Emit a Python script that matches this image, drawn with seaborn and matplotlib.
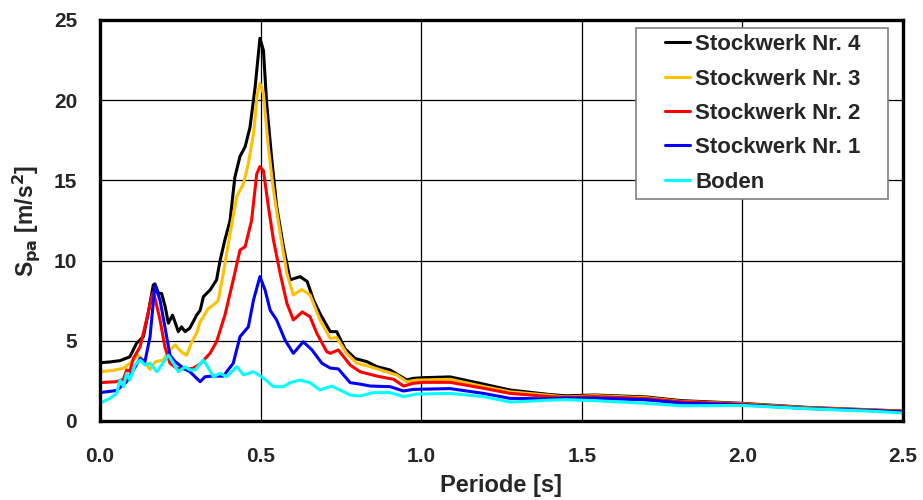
import matplotlib
matplotlib.use("Agg")
import matplotlib.pyplot as plt
import numpy as np
import pandas as pd
import seaborn as sns
from matplotlib.patches import Rectangle
from matplotlib.transforms import IdentityTransform
from matplotlib.ticker import MultipleLocator, FormatStrFormatter

# Spectral acceleration per storey
x_st4 = [0.0, 0.03, 0.062, 0.093, 0.114, 0.135, 0.15, 0.166, 0.171, 0.182, 0.192, 0.203, 0.213,
         0.226, 0.244, 0.254, 0.265, 0.28, 0.301, 0.312, 0.322, 0.343, 0.363, 0.374, 0.389, 0.405,
         0.42, 0.436, 0.452, 0.467, 0.483, 0.498, 0.509, 0.519, 0.535, 0.55, 0.571, 0.592, 0.623,
         0.645, 0.665, 0.685, 0.717, 0.737, 0.763, 0.794, 0.831, 0.862, 0.903, 0.929, 0.955, 0.976,
         1.007, 1.09, 1.194, 1.277, 1.40, 1.45, 1.54, 1.70, 1.81, 2.0, 2.2, 2.41, 2.5]
y_st4 = [3.63, 3.68, 3.76, 4.0, 4.85, 5.26, 6.7, 8.48, 8.55, 7.97, 7.95, 7.13, 6.1,
         6.6, 5.57, 5.87, 5.57, 5.8, 6.6, 6.9, 7.75, 8.17, 8.8, 10.0, 11.3, 12.5,
         15.2, 16.5, 17.1, 18.3, 20.8, 23.86, 23.1, 19.8, 16.3, 13.4, 10.9, 8.8, 9.0,
         8.7, 7.54, 6.7, 5.57, 5.57, 4.5, 3.9, 3.7, 3.39, 3.18, 2.87, 2.56, 2.66,
         2.7, 2.75, 2.3, 1.93, 1.65, 1.57, 1.62, 1.5, 1.27, 1.1, 0.85, 0.69, 0.62]

x_st3 = [0.0, 0.04, 0.073, 0.093, 0.104, 0.119, 0.13, 0.145, 0.156, 0.173, 0.197, 0.218, 0.234,
         0.254, 0.27, 0.286, 0.301, 0.312, 0.322, 0.337, 0.353, 0.368, 0.384, 0.405, 0.426, 0.447,
         0.462, 0.478, 0.49, 0.498, 0.509, 0.524, 0.54, 0.561, 0.582, 0.602, 0.628, 0.654, 0.685,
         0.717, 0.737, 0.768, 0.8, 0.841, 0.88, 0.924, 0.955, 0.986, 1.09, 1.194, 1.277, 1.40,
         1.45, 1.54, 1.70, 1.81, 2.0, 2.2, 2.41, 2.5]
y_st3 = [3.07, 3.15, 3.29, 3.6, 3.8, 4.1, 3.9, 3.5, 3.22, 3.7, 3.8, 4.43, 4.74,
         4.3, 4.1, 4.94, 5.47, 6.2, 6.5, 7.0, 7.23, 7.5, 9.2, 11.7, 14.0, 14.8,
         16.07, 17.9, 20.4, 21.05, 20.4, 17.1, 14.4, 11.7, 9.2, 7.86, 8.2, 7.86, 6.3,
         5.15, 5.2, 4.22, 3.6, 3.39, 3.14, 2.87, 2.45, 2.55, 2.6, 2.15, 1.82, 1.6,
         1.5, 1.58, 1.45, 1.22, 1.07, 0.82, 0.67, 0.6]

x_st2 = [0.0, 0.05, 0.073, 0.083, 0.093, 0.104, 0.125, 0.145, 0.161, 0.166, 0.172, 0.187, 0.202,
         0.218, 0.239, 0.27, 0.29, 0.312, 0.343, 0.363, 0.389, 0.415, 0.436, 0.452, 0.472, 0.488,
         0.498, 0.509, 0.524, 0.54, 0.561, 0.582, 0.602, 0.63, 0.654, 0.675, 0.706, 0.717, 0.742,
         0.779, 0.81, 0.862, 0.914, 0.945, 0.976, 1.007, 1.09, 1.194, 1.277, 1.40, 1.45, 1.54,
         1.70, 1.81, 2.0, 2.2, 2.41, 2.5]
y_st2 = [2.39, 2.45, 2.6, 3.18, 3.1, 3.9, 4.63, 6.3, 7.75, 8.0, 7.6, 6.3, 4.63,
         3.6, 3.29, 3.22, 3.29, 3.55, 4.23, 4.94, 6.6, 8.8, 10.66, 10.87, 12.5, 15.4,
         15.86, 15.6, 13.4, 11.3, 9.2, 7.34, 6.3, 6.8, 6.5, 5.47, 4.32, 4.22, 4.43,
         3.49, 3.07, 2.8, 2.6, 2.18, 2.35, 2.41, 2.41, 2.04, 1.72, 1.52, 1.47, 1.52,
         1.4, 1.2, 1.05, 0.8, 0.66, 0.6]

x_st1 = [0.0, 0.052, 0.083, 0.104, 0.125, 0.14, 0.156, 0.171, 0.187, 0.202, 0.218, 0.234, 0.26,
         0.28, 0.312, 0.327, 0.353, 0.384, 0.415, 0.436, 0.462, 0.478, 0.498, 0.514, 0.53, 0.55,
         0.576, 0.602, 0.633, 0.66, 0.691, 0.717, 0.742, 0.779, 0.81, 0.841, 0.903, 0.945, 0.976,
         1.09, 1.194, 1.277, 1.40, 1.45, 1.54, 1.70, 1.81, 2.0, 2.2, 2.41, 2.5]
y_st1 = [1.77, 1.9, 2.45, 3.18, 3.9, 3.7, 5.26, 8.45, 7.54, 5.88, 4.1, 3.7, 3.29,
         3.07, 2.45, 2.76, 2.8, 2.8, 3.6, 5.26, 5.87, 7.54, 9.0, 8.17, 6.9, 6.3,
         5.05, 4.22, 4.94, 4.43, 3.6, 3.3, 3.25, 2.39, 2.3, 2.18, 2.14, 1.87, 1.97,
         2.02, 1.72, 1.41, 1.38, 1.42, 1.42, 1.32, 1.12, 1.0, 0.78, 0.64, 0.56]

x_boden = [0.0, 0.031, 0.052, 0.062, 0.073, 0.083, 0.093, 0.109, 0.125, 0.14, 0.156, 0.177, 0.192,
           0.213, 0.229, 0.244, 0.265, 0.28, 0.296, 0.322, 0.338, 0.353, 0.374, 0.395, 0.426, 0.447,
           0.478, 0.509, 0.54, 0.571, 0.592, 0.623, 0.654, 0.685, 0.722, 0.747, 0.779, 0.81, 0.851,
           0.903, 0.945, 0.986, 1.09, 1.194, 1.277, 1.40, 1.45, 1.54, 1.70, 1.81, 2.0, 2.2, 2.41, 2.5]
y_boden = [1.1, 1.41, 1.72, 2.56, 2.14, 2.97, 2.56, 3.49, 3.8, 3.49, 3.6, 3.07, 3.49,
           4.1, 3.6, 3.07, 3.38, 3.18, 3.18, 3.8, 3.29, 2.76, 2.97, 2.76, 3.39, 2.87,
           3.07, 2.68, 2.14, 2.14, 2.39, 2.55, 2.39, 1.93, 2.18, 1.93, 1.62, 1.56, 1.77,
           1.77, 1.52, 1.68, 1.72, 1.52, 1.18, 1.3, 1.33, 1.27, 1.1, 0.95, 0.97, 0.77, 0.6, 0.5]

series_names = ["Stockwerk Nr. 4", "Stockwerk Nr. 3", "Stockwerk Nr. 2", "Stockwerk Nr. 1", "Boden"]
series_colors = ["#000000", "#FFC000", "#FF0000", "#0000FF", "#00FFFF"]

# long-form table for seaborn
frames = []
for name, xs, ys in zip(series_names,
                        [x_st4, x_st3, x_st2, x_st1, x_boden],
                        [y_st4, y_st3, y_st2, y_st1, y_boden]):
    frames.append(pd.DataFrame({"Periode": xs, "Spa": ys, "Kurve": name}))
df = pd.concat(frames, ignore_index=True)

sns.set_style("white")
plt.rcParams["font.family"] = ["Liberation Sans", "DejaVu Sans"]
plt.rcParams["font.weight"] = "bold"
plt.rcParams["mathtext.default"] = "bf"

fig = plt.figure(figsize=(9.23, 5.0), dpi=100)
ax = fig.add_axes([0.1083, 0.158, 0.870, 0.802])

sns.lineplot(data=df, x="Periode", y="Spa", hue="Kurve", hue_order=series_names,
             palette=dict(zip(series_names, series_colors)), sort=False,
             estimator=None, linewidth=2.2, ax=ax)

ax.set_xlim(0, 2.5)
ax.set_ylim(0, 25)
ax.xaxis.set_major_locator(MultipleLocator(0.5))
ax.xaxis.set_minor_locator(MultipleLocator(0.1))
ax.yaxis.set_major_locator(MultipleLocator(5))
ax.yaxis.set_minor_locator(MultipleLocator(1))
ax.xaxis.set_major_formatter(FormatStrFormatter("%.1f"))
ax.grid(True, which="major", color="black", linewidth=0.9)
ax.set_axisbelow(True)

for sp in ax.spines.values():
    sp.set_color("black")
    sp.set_linewidth(2.4)

ax.tick_params(which="major", direction="inout", length=13, width=1.8, labelsize=15)
ax.tick_params(axis="x", which="major", pad=12)
ax.tick_params(axis="y", which="major", pad=10)
ax.tick_params(which="minor", direction="in", length=6, width=1.6)
for lbl in ax.get_xticklabels() + ax.get_yticklabels():
    lbl.set_fontweight("bold")

ax.set_xlabel("Periode [s]", fontsize=17, fontweight="bold", labelpad=6)
ax.set_ylabel(r"S$_{\mathbf{pa}}$ [m/s$^{\mathbf{2}}$]", fontsize=16.5, fontweight="bold")
ax.yaxis.set_label_coords(-0.072, 0.5)

# legend without its own frame; a wider box is drawn behind it
handles, labels = ax.get_legend_handles_labels()
leg = ax.legend(handles, labels, loc="upper right", bbox_to_anchor=(0.955, 0.98),
                borderaxespad=0, frameon=False,
                prop={"weight": "bold", "size": 16}, handlelength=1.1, handletextpad=0.25,
                labelspacing=0.6, borderpad=0.28)
fig.canvas.draw()
bb = leg.get_window_extent()
box = Rectangle((bb.x0 - 23, bb.y0), bb.width + 44, bb.height, transform=IdentityTransform(),
                facecolor="white", edgecolor="#808080", linewidth=1.2, zorder=4.9)
ax.add_artist(box)

fig.savefig("out.png", dpi=100)
